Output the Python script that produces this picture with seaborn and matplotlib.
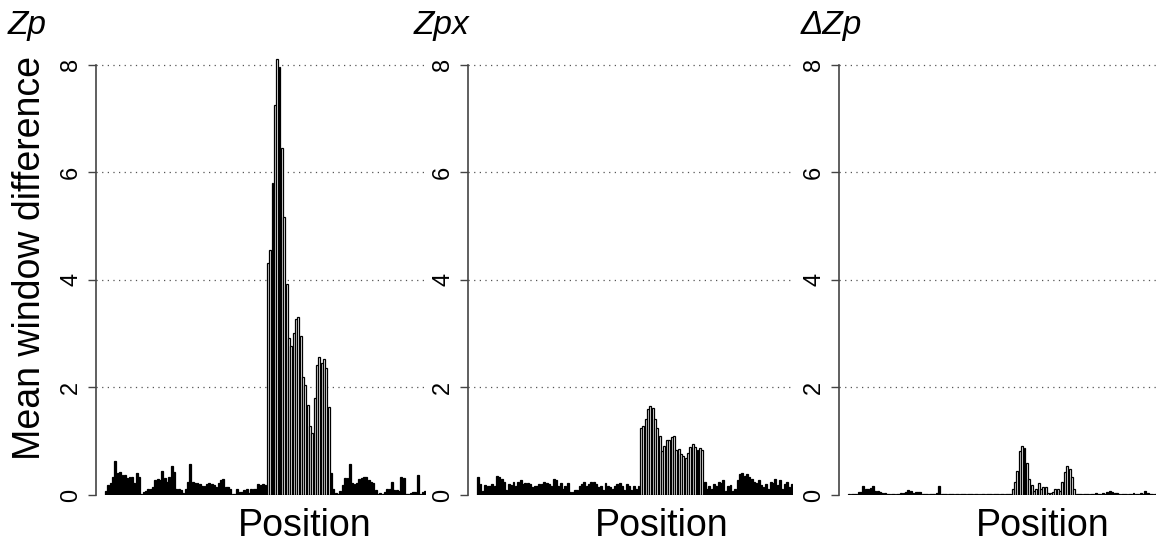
import seaborn as sns
import matplotlib.pyplot as plt
import pandas as pd

# window values, split as left background / peak / right background
zp_left = [0.07, 0.19, 0.22, 0.34, 0.63, 0.40, 0.42, 0.37, 0.37, 0.32, 0.33, 0.33, 0.22, 0.41,
           0.33, 0.01, 0.05, 0.07, 0.11, 0.12, 0.14, 0.28, 0.30, 0.28, 0.45, 0.32, 0.25, 0.33,
           0.53, 0.42, 0.11, 0.11, 0.09, 0.04, 0.12, 0.25, 0.58, 0.25, 0.23, 0.22, 0.20, 0.17,
           0.17, 0.20, 0.23, 0.20, 0.18, 0.14, 0.23, 0.28, 0.29, 0.14, 0.14, 0.11, 0.01, 0.01,
           0.11, 0.06, 0.06, 0.09, 0.12, 0.04, 0.12, 0.12, 0.12, 0.20, 0.19, 0.20, 0.19]
zp_peak = [4.31, 4.55, 5.81, 7.25, 8.11, 7.96, 6.45, 5.16, 3.92, 2.91, 2.77, 3.02, 3.27, 3.31,
           2.96, 2.20, 2.05, 1.68, 1.28, 1.16, 1.80, 2.42, 2.56, 2.46, 2.52, 2.36, 1.63]
zp_right = [0.40, 0.11, 0.04, 0.02, 0.08, 0.19, 0.31, 0.31, 0.58, 0.22, 0.20, 0.22, 0.29, 0.31,
            0.33, 0.33, 0.27, 0.25, 0.22, 0.09, 0.02, 0.04, 0.02, 0.06, 0.11, 0.11, 0.24, 0.09,
            0.09, 0.08, 0.33, 0.31, 0.02, 0.02, 0.04, 0.05, 0.05, 0.37, 0.02, 0.06, 0.08]

zpx_left = [0.33, 0.20, 0.08, 0.19, 0.17, 0.16, 0.20, 0.16, 0.36, 0.33, 0.30, 0.24, 0.10, 0.20,
            0.19, 0.24, 0.17, 0.24, 0.28, 0.20, 0.22, 0.22, 0.20, 0.14, 0.17, 0.16, 0.20, 0.20,
            0.24, 0.22, 0.20, 0.16, 0.30, 0.27, 0.17, 0.22, 0.11, 0.17, 0.22, 0.06, 0.06, 0.10,
            0.10, 0.17, 0.20, 0.24, 0.17, 0.20, 0.24, 0.24, 0.20, 0.14, 0.17, 0.10, 0.22, 0.17,
            0.14, 0.12, 0.17, 0.20, 0.22, 0.17, 0.10, 0.20, 0.16, 0.10, 0.17, 0.11, 0.17]
zpx_peak = [1.24, 1.28, 1.41, 1.60, 1.66, 1.62, 1.41, 1.24, 1.10, 0.82, 0.92, 1.03, 1.03, 1.07,
            1.09, 0.84, 0.85, 0.76, 0.72, 0.68, 0.78, 0.90, 0.95, 0.90, 0.84, 0.87, 0.84]
zpx_right = [0.25, 0.12, 0.17, 0.11, 0.20, 0.16, 0.24, 0.22, 0.28, 0.08, 0.17, 0.19, 0.08, 0.11,
             0.27, 0.39, 0.41, 0.36, 0.39, 0.33, 0.30, 0.25, 0.22, 0.28, 0.18, 0.15, 0.20, 0.12,
             0.25, 0.22, 0.30, 0.18, 0.27, 0.12, 0.20, 0.24, 0.15, 0.20]

dzp_left = [0.01, 0.02, 0.02, 0.01, 0.05, 0.05, 0.17, 0.11, 0.11, 0.13, 0.16, 0.08, 0.08, 0.05,
            0.03, 0.03, 0.01, 0.01, 0.01, 0.01, 0.01, 0.02, 0.04, 0.04, 0.06, 0.09, 0.07, 0.03,
            0.06, 0.06, 0.05, 0.02, 0.01, 0.01, 0.01, 0.01, 0.01, 0.03, 0.17, 0.02, 0.02, 0.02,
            0.01, 0.01, 0.01, 0.01, 0.01, 0.01, 0.01, 0.01, 0.01, 0.01, 0.01, 0.01, 0.02, 0.01,
            0.01, 0.01, 0.01, 0.01, 0.02, 0.02, 0.02, 0.01, 0.01, 0.01, 0.01, 0.02, 0.01]
dzp_peak = [0.12, 0.25, 0.45, 0.82, 0.91, 0.87, 0.59, 0.29, 0.19, 0.08, 0.11, 0.22, 0.11, 0.14,
            0.14, 0.03, 0.04, 0.06, 0.12, 0.11, 0.08, 0.25, 0.42, 0.53, 0.48, 0.33, 0.12]
dzp_right = [0.01, 0.01, 0.01, 0.01, 0.02, 0.02, 0.01, 0.02, 0.04, 0.02, 0.02, 0.03, 0.02, 0.06,
             0.07, 0.06, 0.04, 0.03, 0.02, 0.01, 0.02, 0.02, 0.02, 0.01, 0.03, 0.02, 0.02, 0.03,
             0.02, 0.07, 0.03, 0.02, 0.02, 0.01]

titles = ['Zp', 'Zpx', '\u0394Zp']
yticks = [0, 2, 4, 6, 8]

panels = [(zp_left, zp_peak, zp_right),
          (zpx_left, zpx_peak, zpx_right),
          (dzp_left, dzp_peak, dzp_right)]

sns.set_theme(style='white')
plt.rcParams['font.family'] = ['Liberation Sans', 'DejaVu Sans']
plt.rcParams['text.color'] = 'black'
plt.rcParams['ytick.color'] = 'black'

W, H = 1159, 542
fig = plt.figure(figsize=(W / 100, H / 100), dpi=100)

# axes boxes in pixels: (left, right)
boxes = [(96, 426), (468, 793), (839, 1156)]
title_x = [8, 414, 801]
xlabel_x = [305, 662, 1043]
y0, ytop = 495, 54

for i, (left, peak, right) in enumerate(panels):
    vals = left + peak + right
    region = ['bg'] * len(left) + ['peak'] * len(peak) + ['bg'] * len(right)
    df = pd.DataFrame({'pos': range(len(vals)), 'value': vals, 'region': region})

    l, r = boxes[i]
    ax = fig.add_axes([l / W, (H - y0) / H, (r - l) / W, (y0 - ytop) / H])
    sns.barplot(data=df, x='pos', y='value', hue='region',
                palette={'bg': 'black', 'peak': 'white'}, dodge=False,
                width=0.83, edgecolor='black', linewidth=0.9, legend=False, ax=ax)

    ax.set_xlim(-4.3, len(vals) - 0.5)
    ax.set_ylim(0, 8.2)
    ax.set_xticks([])
    ax.set_yticks(yticks)
    ax.set_yticklabels([str(t) for t in yticks], rotation=90, va='center',
                       fontsize=17, color='black')
    ax.tick_params(axis='y', left=True, length=6, width=1, color='#444', pad=4)
    ax.set_xlabel('')
    ax.set_ylabel('')
    for s in ['top', 'right', 'bottom']:
        ax.spines[s].set_visible(False)
    ax.spines['left'].set_bounds(0, 8)
    ax.spines['left'].set_color('#444')
    ax.spines['left'].set_linewidth(1.2)
    for t in [2, 4, 6, 8]:
        ax.axhline(t, color='#555', linestyle=(0, (1, 3.5)), linewidth=0.9, zorder=0)
    ax.set_facecolor('none')

    fig.text(title_x[i] / W, 1 - 34 / H, titles[i], fontsize=24, style='italic',
             ha='left', va='baseline', color='black')
    fig.text(xlabel_x[i] / W, 1 - 536 / H, 'Position', fontsize=27,
             ha='center', va='baseline', color='black')

fig.text(30 / W, 1 - 258 / H, 'Mean window difference', fontsize=27,
         rotation=90, ha='center', va='center', color='black')

fig.savefig('out.png', dpi=100)
